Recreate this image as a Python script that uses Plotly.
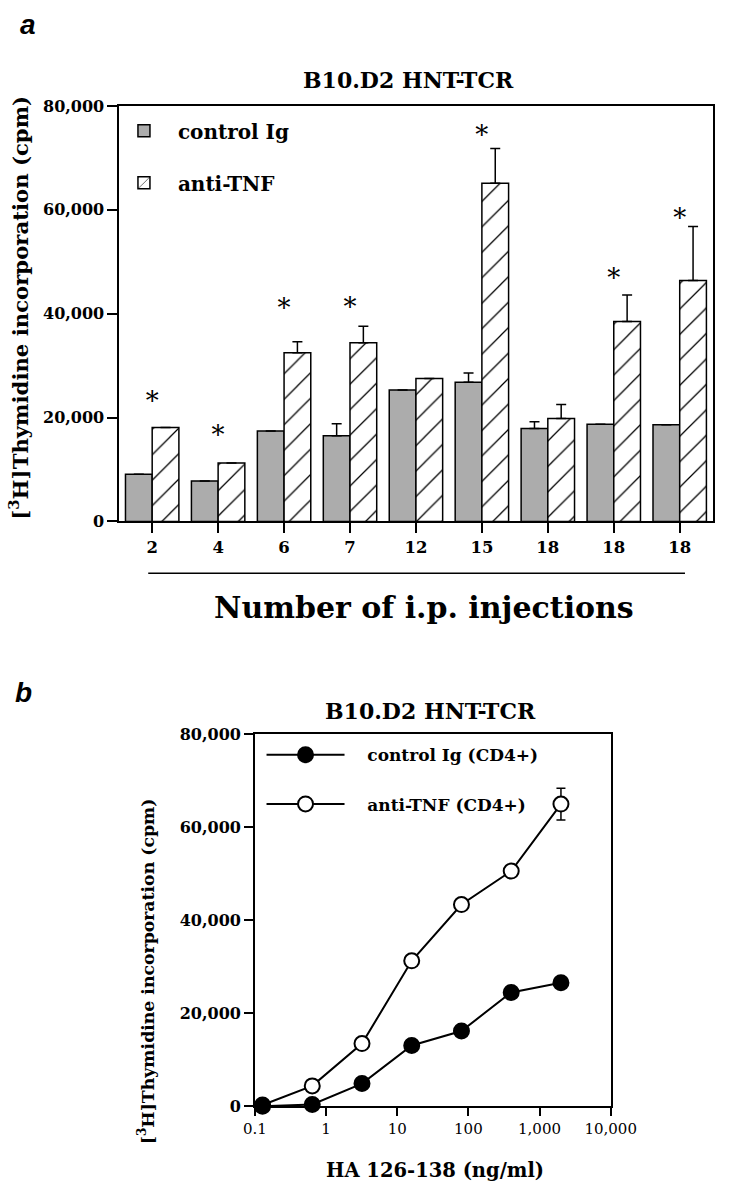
import plotly.graph_objects as go

# ---------------- Panel a data ----------------
injections = ["2", "4", "6", "7", "12", "15", "18", "18", "18"]
control_ig = [9100, 7800, 17400, 16500, 25300, 26800, 17900, 18700, 18600]
anti_tnf = [18100, 11250, 32500, 34400, 27500, 65100, 19800, 38500, 46400]
control_err = [None, None, None, 2300, None, 1800, 1300, None, None]
anti_err = [None, None, 2100, 3200, None, 6700, 2700, 5100, 10400]
star_level = [22800, 16100, 40700, 40900, None, 73900, None, 46300, 57900]
y_ticks = [0, 20000, 40000, 60000, 80000]

# ---------------- Panel b data ----------------
ha_dose = [0.128, 0.64, 3.2, 16, 80, 400, 2000]
control_cd4 = [0, 400, 4900, 13100, 16200, 24500, 26600]
anti_cd4 = [300, 4400, 13500, 31300, 43400, 50600, 65000]
anti_cd4_err = [None, None, None, None, None, None, 3400]
dose_ticks = [0.1, 1, 10, 100, 1000, 10000]
dose_ticktext = ["0.1", "1", "10", "100", "1,000", "10,000"]

SERIF = "DejaVu Serif"
NB = "\u00a0"
idx = list(range(len(injections)))
W, H = 742, 1200

def px(x):
    return x / W

def py(y):
    return 1 - y / H

fig = go.Figure()

err_style = dict(type="data", symmetric=False, color="black", thickness=1.5, width=5)

fig.add_trace(go.Bar(
    x=idx, y=control_ig, name=NB * 2 + "control Ig",
    marker=dict(color="#acacac", line=dict(color="black", width=1.5)),
    error_y=dict(array=control_err, arrayminus=[0] * len(idx), **err_style),
    xaxis="x", yaxis="y", legend="legend", legendgroup="c",
))
fig.add_trace(go.Bar(
    x=idx, y=anti_tnf, name=NB * 2 + "anti-TNF",
    marker=dict(color="white", line=dict(color="black", width=1.5),
                pattern=dict(shape="/", fgcolor="black", bgcolor="white",
                             size=18, solidity=0.07, fillmode="replace")),
    error_y=dict(array=anti_err, arrayminus=[0] * len(idx), **err_style),
    xaxis="x", yaxis="y", legend="legend", legendgroup="a",
))
star_x = [i for i, s in zip(idx, star_level) if s is not None]
star_y = [s for s in star_level if s is not None]
fig.add_trace(go.Scatter(
    x=star_x, y=star_y, mode="text", text=["*"] * len(star_x),
    textposition="middle center",
    textfont=dict(family=SERIF, size=26, color="black"),
    showlegend=False, cliponaxis=False, xaxis="x", yaxis="y", hoverinfo="skip",
))

# Panel b
fig.add_trace(go.Scatter(
    x=ha_dose, y=anti_cd4, name=NB * 3 + "anti-TNF (CD4+)", mode="lines+markers",
    line=dict(color="black", width=2),
    marker=dict(symbol="circle", size=15, color="white", line=dict(color="black", width=2)),
    error_y=dict(type="data", array=anti_cd4_err, color="black", thickness=1.5, width=4.5),
    xaxis="x2", yaxis="y2", legend="legend2", legendgroup="b2", legendrank=2,
    cliponaxis=False,
))
fig.add_trace(go.Scatter(
    x=ha_dose, y=control_cd4, name=NB * 3 + "control Ig (CD4+)", mode="lines+markers",
    line=dict(color="black", width=2),
    marker=dict(symbol="circle", size=15, color="black", line=dict(color="black", width=2)),
    xaxis="x2", yaxis="y2", legend="legend2", legendgroup="b1", legendrank=1,
    cliponaxis=False,
))

axis_common = dict(showline=True, linecolor="black", linewidth=1.5, mirror=True,
                   ticks="outside", tickcolor="black", tickwidth=1.5,
                   showgrid=False, zeroline=False)

fig.update_layout(
    width=W, height=H, autosize=False,
    margin=dict(l=0, r=0, t=0, b=0),
    paper_bgcolor="white", plot_bgcolor="white",
    barmode="group", bargap=0.19, bargroupgap=0,
    showlegend=True,
    xaxis=dict(domain=[px(113), px(738.5)], anchor="y", range=[-0.5, 8.5],
               tickmode="array", tickvals=idx, ticktext=injections, ticklen=10,
               tickfont=dict(family=SERIF, size=16.5, color="black", weight="bold"),
               **axis_common),
    yaxis=dict(domain=[py(520.7), py(98.5)], anchor="x", range=[0, 80000],
               tickmode="array", tickvals=y_ticks, tickformat=",d", ticklen=10,
               tickfont=dict(family=SERIF, size=16, color="black", weight="bold"),
               **axis_common),
    xaxis2=dict(domain=[px(256), px(631)], anchor="y2", type="log", range=[-1, 4],
                tickmode="array", tickvals=dose_ticks, ticktext=dose_ticktext, ticklen=8,
                tickfont=dict(family=SERIF, size=15, color="black"),
                **axis_common),
    yaxis2=dict(domain=[py(1115), py(737)], anchor="x2", range=[0, 80000],
                tickmode="array", tickvals=y_ticks, tickformat=",d", ticklen=9,
                tickfont=dict(family=SERIF, size=16, color="black", weight="bold"),
                **axis_common),
    legend=dict(x=px(118), y=py(104), xanchor="left", yanchor="top",
                font=dict(family=SERIF, size=20, color="black", weight="bold"),
                bgcolor="rgba(0,0,0,0)", tracegroupgap=23, traceorder="grouped"),
    legend2=dict(x=px(263), y=py(740), xanchor="left", yanchor="top",
                 font=dict(family=SERIF, size=17, color="black", weight="bold"),
                 bgcolor="rgba(0,0,0,0)", tracegroupgap=24, itemwidth=78,
                 traceorder="grouped"),
)

ann_font = dict(family=SERIF, color="black", weight="bold")
annotations = [
    dict(text="a", x=px(17), y=py(16), font=dict(family="Liberation Sans", size=28,
         color="black", weight="bold", style="italic")),
    dict(text="b", x=px(12), y=py(694), font=dict(family="Liberation Sans", size=28,
         color="black", weight="bold", style="italic")),
    dict(text="B10.D2 HNT-TCR", x=px(418), y=py(72), font=dict(size=22, **ann_font)),
    dict(text="B10.D2 HNT-TCR", x=px(441), y=py(713), font=dict(size=22, **ann_font)),
    dict(text="Number of i.p. injections", x=px(434), y=py(608), font=dict(size=30, **ann_font)),
    dict(text="HA 126-138 (ng/ml)", x=px(446), y=py(1180), font=dict(size=19.5, **ann_font)),
    dict(text="[<sup>3</sup>H]Thymidine incorporation (cpm)", x=px(8), y=py(304),
         textangle=-90, font=dict(size=21.2, **ann_font)),
    dict(text="[<sup>3</sup>H]Thymidine incorporation (cpm)", x=px(141), y=py(978),
         textangle=-90, font=dict(size=17.3, **ann_font)),
]
for a in annotations:
    a.update(xref="paper", yref="paper", xanchor="center", yanchor="middle", showarrow=False)
fig.update_layout(annotations=annotations)

# rule under the injection-number labels
fig.add_shape(type="line", xref="x", yref="paper", x0=-0.06, x1=8.08,
              y0=py(573.3), y1=py(573.3), line=dict(color="black", width=1.5))

fig.write_html("out.html", config={"displayModeBar": False},
               post_script="document.body.style.margin='0';document.body.style.padding='0';")
